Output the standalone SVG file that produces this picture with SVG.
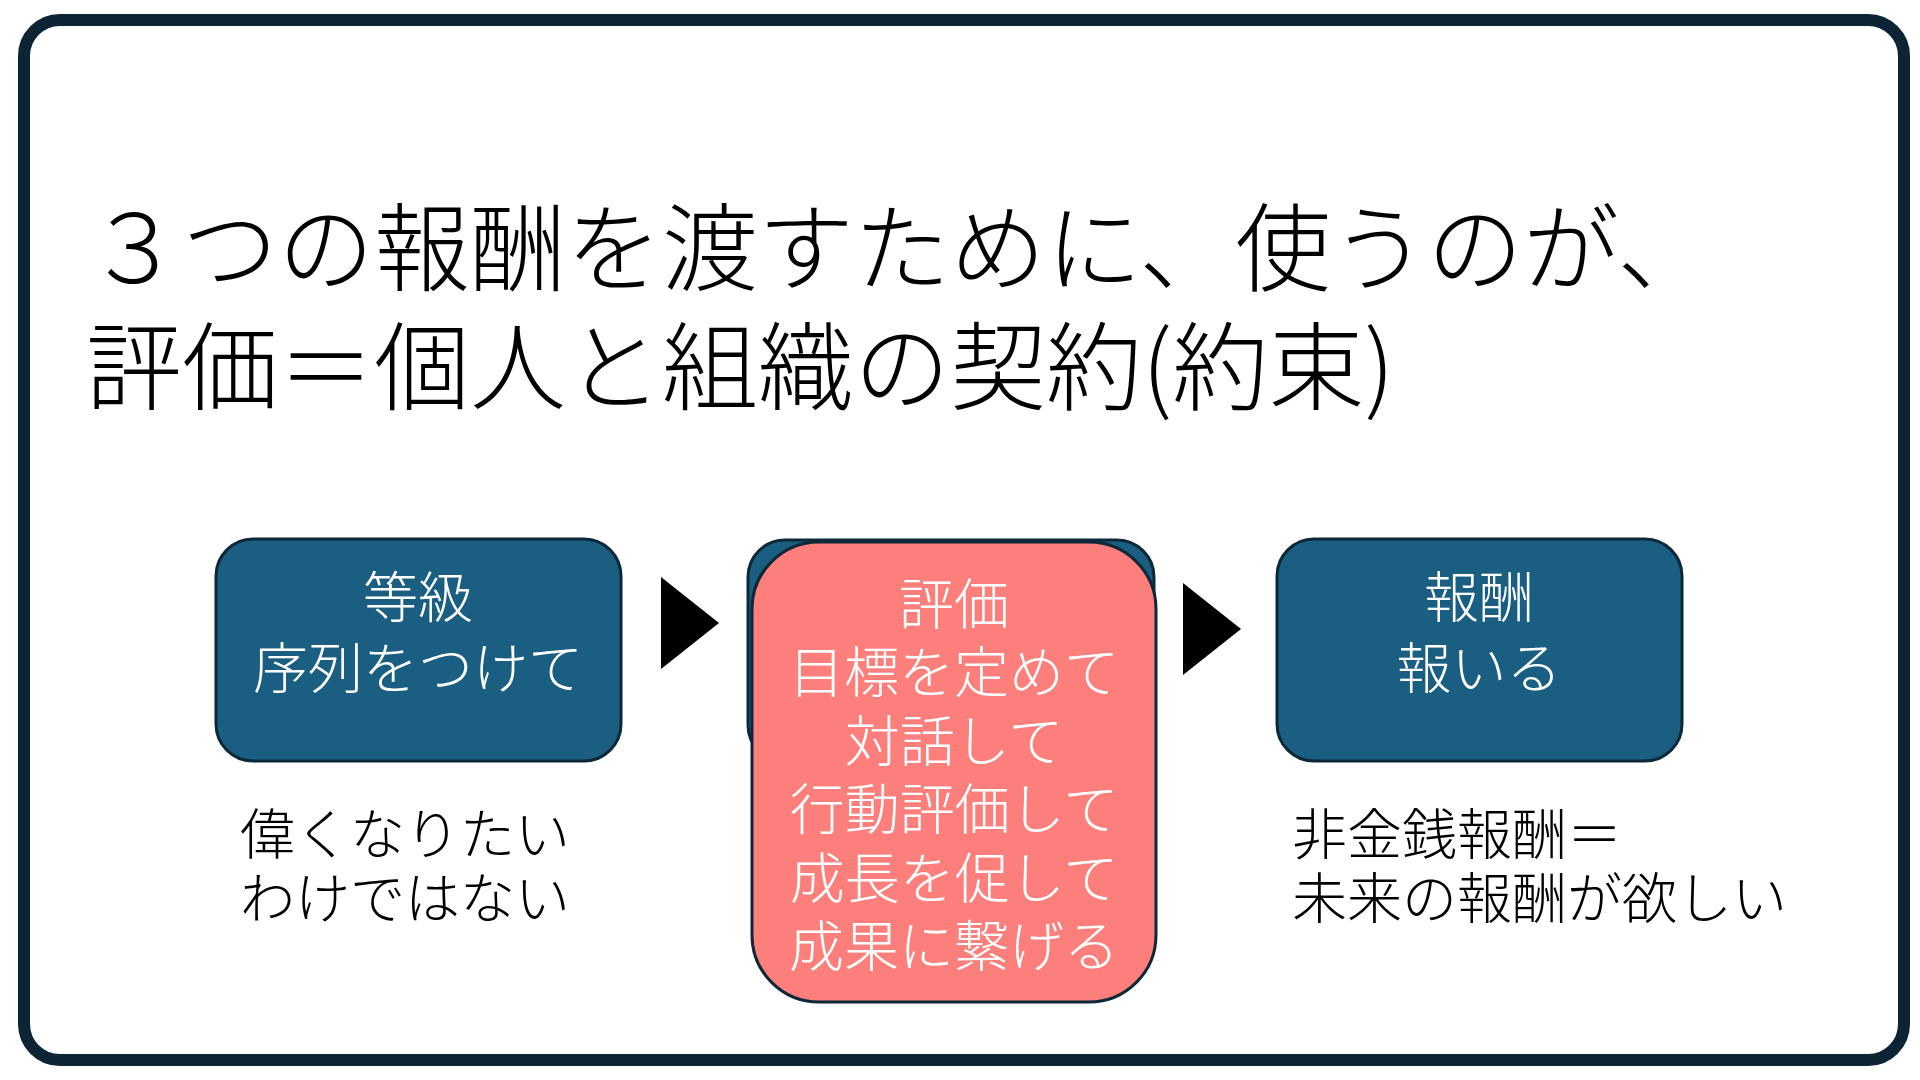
<svg xmlns="http://www.w3.org/2000/svg" width="1920" height="1080" viewBox="0 0 1920 1080">
  <style>
    .jp { font-family: "Noto Sans CJK JP", "Noto Sans", sans-serif; font-weight: 300; }
    .title { font-size: 96px; fill: #000000; }
    .boxtext { font-size: 55px; fill: #ffffff; text-anchor: middle; }
    .note { font-size: 55px; fill: #000000; }
    .bluebox { fill: #1a5e82; stroke: #0d2838; stroke-width: 3; }
    .pinkbox { fill: #fc7f7b; stroke: #0d2838; stroke-width: 3; }
    .arrow { fill: #000000; }
  </style>
  <rect width="1920" height="1080" fill="#ffffff"/>
  <g id="frame">
    <rect x="24" y="20" width="1880" height="1040" rx="36" ry="36" fill="#ffffff" stroke="#0c2433" stroke-width="12"/>
  </g>
  <g id="title" class="jp title">
    <text x="86" y="283">３つの報酬を渡すために、使うのが、</text>
    <text x="86" y="402">評価＝個人と組織の契約(約束)</text>
  </g>
  <g id="connectors">
    <polygon class="arrow" points="661,577 719,623 661,669"/>
    <polygon class="arrow" points="1183,583 1241,629 1183,675"/>
  </g>
  <g id="node-tokyu">
    <rect class="bluebox" x="216" y="539" width="405" height="222" rx="37" ry="37"/>
    <text class="jp boxtext" x="418" y="617">等級</text>
    <text class="jp boxtext" x="418" y="688">序列をつけて</text>
  </g>
  <g id="note-tokyu" class="jp note">
    <text x="240" y="854">偉くなりたい</text>
    <text x="240" y="918">わけではない</text>
  </g>
  <g id="node-hyoka">
    <rect class="bluebox" x="748" y="540" width="406" height="222" rx="37" ry="37"/>
    <rect class="pinkbox" x="752" y="542" width="404" height="460" rx="67" ry="67"/>
    <text class="jp boxtext" x="954" y="624">評価</text>
    <text class="jp boxtext" x="954" y="692">目標を定めて</text>
    <text class="jp boxtext" x="954" y="761">対話して</text>
    <text class="jp boxtext" x="954" y="829">行動評価して</text>
    <text class="jp boxtext" x="954" y="898">成長を促して</text>
    <text class="jp boxtext" x="954" y="966">成果に繋げる</text>
  </g>
  <g id="node-hoshu">
    <rect class="bluebox" x="1277" y="539" width="405" height="222" rx="37" ry="37"/>
    <text class="jp boxtext" x="1479" y="617">報酬</text>
    <text class="jp boxtext" x="1479" y="688">報いる</text>
  </g>
  <g id="note-hoshu" class="jp note">
    <text x="1292" y="854">非金銭報酬＝</text>
    <text x="1292" y="918">未来の報酬が欲しい</text>
  </g>
</svg>
